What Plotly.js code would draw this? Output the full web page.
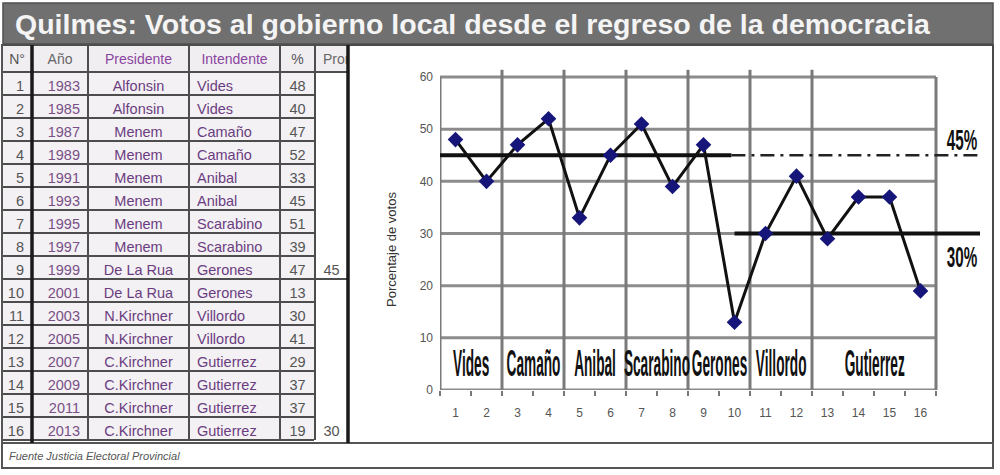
<!DOCTYPE html>
<html>
<head>
<meta charset="utf-8">
<script src="https://cdn.plot.ly/plotly-3.0.1.min.js"></script>
<style>
  html, body { margin: 0; padding: 0; background: #ffffff; }
  #chart { width: 1000px; height: 475px; }
</style>
</head>
<body>
<div id="chart"></div>
<script>
  const titulo = "Quilmes: Votos al gobierno local desde el regreso de la democracia";
  const fuente = "Fuente Justicia Electoral Provincial";
  const encabezados = ["N°", "Año", "Presidente", "Intendente", "%", "Prom"];
  const numero = [1, 2, 3, 4, 5, 6, 7, 8, 9, 10, 11, 12, 13, 14, 15, 16];
  const anio = [1983, 1985, 1987, 1989, 1991, 1993, 1995, 1997, 1999, 2001, 2003, 2005, 2007, 2009, 2011, 2013];
  const presidente = ["Alfonsin", "Alfonsin", "Menem", "Menem", "Menem", "Menem", "Menem", "Menem",
    "De La Rua", "De La Rua", "N.Kirchner", "N.Kirchner", "C.Kirchner", "C.Kirchner", "C.Kirchner", "C.Kirchner"];
  const intendente = ["Vides", "Vides", "Camaño", "Camaño", "Anibal", "Anibal", "Scarabino", "Scarabino",
    "Gerones", "Gerones", "Villordo", "Villordo", "Gutierrez", "Gutierrez", "Gutierrez", "Gutierrez"];
  const votos = [48, 40, 47, 52, 33, 45, 51, 39, 47, 13, 30, 41, 29, 37, 37, 19];
  const promedio = ["", "", "", "", "", "", "", "", "45", "", "", "", "", "", "", "30"];
  const promedioLineas = [45, 30];
  const promedioEtiquetas = ["45%", "30%"];
  const yTicks = [0, 10, 20, 30, 40, 50, 60];
  const yTitulo = "Porcentaje de votos";

  const W = 1000;
  const H = 475;
  const px = (x) => x / W;
  const py = (y) => 1 - y / H;
  const FONT = "Liberation Sans, Arial, sans-serif";

  // table geometry (pixels)
  const tablaTop = 45;
  const headerH = 27;
  const cellH = 23;

  // consecutive groups of the same intendente
  const grupos = [];
  intendente.forEach((nombre, i) => {
    const ultimo = grupos[grupos.length - 1];
    if (ultimo && ultimo.nombre === nombre) {
      ultimo.fin = numero[i];
    } else {
      grupos.push({ nombre, inicio: numero[i], fin: numero[i] });
    }
  });
  const xMin = numero[0] - 0.5;
  const xMax = numero[numero.length - 1] + 0.5;
  const limites = numero.map((n) => n - 0.5).concat([xMax]);

  const shapes = [];
  // horizontal gridlines
  yTicks.forEach((v) => {
    shapes.push({ type: "line", layer: "below", xref: "x", yref: "y", x0: xMin, x1: xMax, y0: v, y1: v,
      line: { color: "#8c8c8c", width: 3 } });
  });
  // separators between intendentes
  grupos.slice(0, -1).forEach((g) => {
    shapes.push({ type: "line", layer: "below", xref: "x", yref: "y", x0: g.fin + 0.5, x1: g.fin + 0.5, y0: 0, y1: 61.4,
      line: { color: "#7a7a7a", width: 3 } });
  });
  // plot frame sides
  [xMin, xMax].forEach((x) => {
    shapes.push({ type: "line", layer: "below", xref: "x", yref: "y", x0: x, x1: x, y0: 0, y1: yTicks[yTicks.length - 1],
      line: { color: "#7a7a7a", width: 3 } });
  });

  // page frames (pixels)
  const rect = (x0, y0, x1, y1, color, width, fill) => ({
    type: "rect", xref: "paper", yref: "paper", x0: px(x0), x1: px(x1), y0: py(y1), y1: py(y0),
    line: { color, width }, fillcolor: fill || "rgba(0,0,0,0)",
  });
  const vline = (x, y0, y1, color, width) => ({
    type: "line", xref: "paper", yref: "paper", x0: px(x), x1: px(x), y0: py(y1), y1: py(y0), line: { color, width },
  });
  const hline = (x0, x1, y, color, width) => ({
    type: "line", xref: "paper", yref: "paper", x0: px(x0), x1: px(x1), y0: py(y), y1: py(y), line: { color, width },
  });
  const tablaBottom = tablaTop + headerH + cellH * numero.length;
  const filaProm = promedio.findIndex((v) => v !== "");
  shapes.push(rect(3, 3, 993, 44, "#4f4f4f", 1.5, "#707070"));
  shapes.push(rect(348, tablaTop, 993, 443, "#4a4a4a", 2));
  shapes.push(rect(2, 443, 993, 468, "#555555", 2));
  shapes.push(vline(2, tablaTop, 443, "#555555", 2));
  shapes.push(vline(315, tablaTop, tablaBottom, "#4d4d4d", 2));
  shapes.push(hline(315, 348, tablaTop + headerH + cellH * (filaProm + 1), "#4d4d4d", 2));
  shapes.push(vline(32, tablaTop, 443, "#1a1a1a", 3.5));
  shapes.push(vline(348, tablaTop, 443, "#1a1a1a", 3.5));

  const annotations = [];
  annotations.push({ xref: "paper", yref: "paper", x: px(13), y: py(24), xanchor: "left", yanchor: "middle",
    text: titulo, showarrow: false, font: { family: FONT, size: 28.5, color: "#f4f4f4", weight: 700 } });
  annotations.push({ xref: "paper", yref: "paper", x: px(7), y: py(456), xanchor: "left", yanchor: "middle",
    text: fuente, showarrow: false, font: { family: FONT, size: 11, color: "#555555", style: "italic" } });
  annotations.push({ xref: "paper", yref: "paper", x: px(391), y: py(250), xanchor: "center", yanchor: "middle",
    text: yTitulo, textangle: -90, showarrow: false, font: { family: FONT, size: 13, color: "#333333" } });

  // index of annotation -> css scale for the tall Excel text boxes
  const escalas = {};
  grupos.forEach((g) => {
    escalas[annotations.length] = "scale(0.72, 1.9)";
    annotations.push({ xref: "x", yref: "y", x: (g.inicio + g.fin) / 2, y: 5, text: g.nombre, showarrow: false,
      font: { family: FONT, size: 19, color: "#111111", weight: 700 } });
  });
  promedioEtiquetas.forEach((t, i) => {
    escalas[annotations.length] = "scale(0.95, 1.9)";
    annotations.push({ xref: "x", yref: "y", x: 17.35, y: promedioLineas[i] + (i === 0 ? 3 : -4.5), text: t, showarrow: false,
      font: { family: FONT, size: 16, color: "#111111", weight: 700 } });
  });

  const colorTexto = ["#555555", "#7a4f86", "#6b3d80", "#6b3d80", "#555555", "#555555"];
  const data = [
    {
      type: "table",
      domain: { x: [px(2), px(348)], y: [py(443), py(tablaTop)] },
      columnwidth: [30, 56, 101, 91, 35, 33],
      header: {
        values: encabezados,
        height: headerH,
        align: ["center", "center", "center", "center", "center", "left"],
        fill: { color: "#f1eef2" },
        line: { color: "#4d4d4d", width: 2 },
        font: { family: FONT, size: 14, color: ["#555555", "#666666", "#8a45a0", "#8a45a0", "#555555", "#666666"] },
      },
      cells: {
        values: [numero, anio, presidente, intendente, votos, promedio],
        height: cellH,
        align: ["right", "right", "center", "left", "center", "center"],
        fill: { color: ["#f3f1f4", "#f3f1f4", "#f3f1f4", "#f3f1f4", "#f3f1f4", "#ffffff"] },
        line: { color: ["#4d4d4d", "#4d4d4d", "#4d4d4d", "#4d4d4d", "#4d4d4d", "#ffffff"], width: 2 },
        font: { family: FONT, size: 14.5, color: colorTexto },
      },
    },
    {
      type: "scatter", mode: "lines", x: [xMin, 9.9], y: [promedioLineas[0], promedioLineas[0]],
      line: { color: "#111111", width: 4 }, hoverinfo: "skip",
    },
    {
      type: "scatter", mode: "lines", x: [9.9, 17.85], y: [promedioLineas[0], promedioLineas[0]],
      line: { color: "#222222", width: 2.5, dash: "14px,6px,3px,6px" }, hoverinfo: "skip",
    },
    {
      type: "scatter", mode: "lines", x: [10.0, 17.92], y: [promedioLineas[1], promedioLineas[1]],
      line: { color: "#111111", width: 4 }, hoverinfo: "skip",
    },
    {
      type: "scatter", mode: "lines+markers", x: numero, y: votos,
      line: { color: "#111111", width: 3 },
      marker: { symbol: "diamond", size: 12, color: "#16167a" },
    },
  ];

  const layout = {
    width: W,
    height: H,
    margin: { l: 0, r: 0, t: 0, b: 0 },
    paper_bgcolor: "#ffffff",
    plot_bgcolor: "#ffffff",
    showlegend: false,
    font: { family: FONT },
    xaxis: {
      domain: [px(440), px(982.5)],
      range: [xMin, 18],
      tickvals: numero,
      ticktext: numero.map(String),
      ticks: "",
      showgrid: false,
      zeroline: false,
      showline: false,
      ticklabelstandoff: 14,
      tickfont: { family: FONT, size: 12, color: "#555555" },
      minor: { tickvals: limites, ticks: "outside", ticklen: 5, tickwidth: 1.5, tickcolor: "#777777", showgrid: false },
    },
    yaxis: {
      domain: [py(390), py(69.2)],
      range: [0, 61.5],
      tickvals: yTicks,
      ticks: "",
      showgrid: false,
      zeroline: false,
      showline: false,
      ticklabelstandoff: 6,
      tickfont: { family: FONT, size: 12, color: "#555555" },
    },
    shapes,
    annotations,
  };

  Plotly.newPlot("chart", data, layout, { displayModeBar: false, staticPlot: true }).then(() => {
    // the hand-placed Excel labels are tall and narrow
    document.querySelectorAll("#chart .annotation").forEach((el) => {
      const escala = escalas[Number(el.getAttribute("data-index"))];
      if (!escala) {
        return;
      }
      const texto = el.querySelector(".annotation-text");
      if (texto) {
        texto.style.transformBox = "fill-box";
        texto.style.transformOrigin = "center";
        texto.style.transform = escala;
      }
    });
  });
</script>
</body>
</html>
